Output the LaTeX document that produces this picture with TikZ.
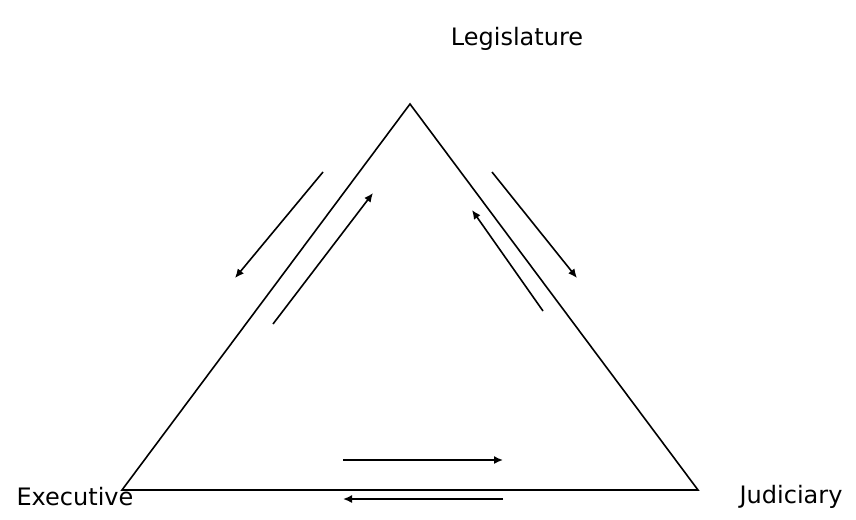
\documentclass[tikz,border=0pt]{standalone}
\usepackage{fontspec}
\setmainfont{DejaVu Sans}
\usetikzlibrary{arrows.meta, positioning}

\begin{document}
\begin{tikzpicture}[
    x=1pt, y=-1pt,
    branch/.style={font=\fontsize{24}{28}\selectfont, inner sep=0pt},
    arrow/.style={-{Latex[length=9pt,width=8pt]}, line width=1.6pt},
    side/.style={line width=1.6pt}
]
\useasboundingbox (0,0) rectangle (856,519);

% vertices of the triangle
\coordinate (top) at (410,104);
\coordinate (left) at (122,490);
\coordinate (right) at (698,490);

\node[branch] (leg) at (517,39) {Legislature};
\node[branch] (exe) at (75,497) {Executive};
\node[branch] (jud) at (791,497) {Judiciary};

\draw[side] (top) -- (left) -- (right) -- cycle;

% arrow ends
\coordinate (a1) at (323,172);
\coordinate (a2) at (235,278);
\coordinate (b1) at (273,324);
\coordinate (b2) at (373,193);
\coordinate (c1) at (492,172);
\coordinate (c2) at (577,278);
\coordinate (d1) at (543,311);
\coordinate (d2) at (472,210);
\coordinate (e1) at (343,460);
\coordinate (e2) at (503,460);
\coordinate (f1) at (503,499);
\coordinate (f2) at (343,499);

\draw[arrow] (a1) -- (a2);
\draw[arrow] (b1) -- (b2);
\draw[arrow] (c1) -- (c2);
\draw[arrow] (d1) -- (d2);
\draw[arrow] (e1) -- (e2);
\draw[arrow] (f1) -- (f2);
\end{tikzpicture}
\end{document}
